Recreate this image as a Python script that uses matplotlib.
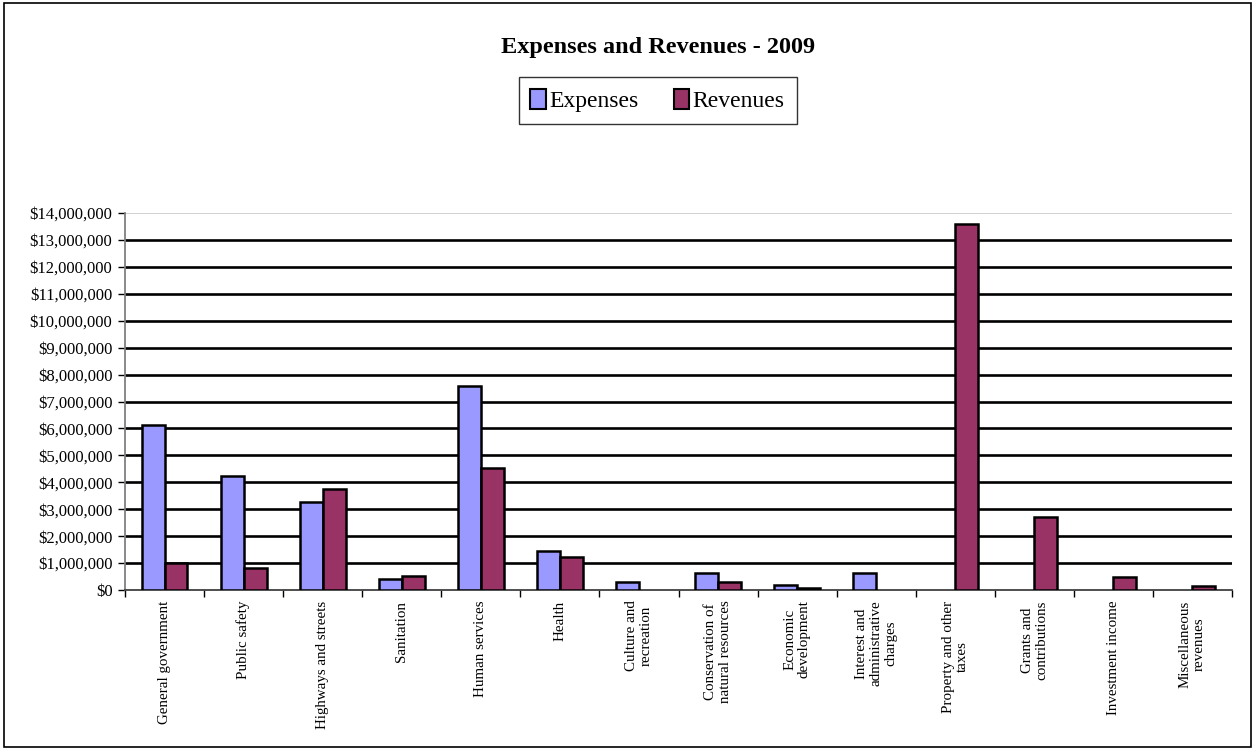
import matplotlib
matplotlib.use("Agg")
import matplotlib.pyplot as plt
import matplotlib.patches as mpatches
import numpy as np
from matplotlib.ticker import FuncFormatter, FixedLocator

plt.rcParams["font.family"] = ["Liberation Serif", "DejaVu Serif"]

# ── Data ──────────────────────────────────────────────────────
categories = [
    "General government", "Public safety", "Highways and streets",
    "Sanitation", "Human services", "Health", "Culture and\nrecreation",
    "Conservation of\nnatural resources", "Economic\ndevelopment",
    "Interest and\nadministrative\ncharges", "Property and other\ntaxes",
    "Grants and\ncontributions", "Investment income",
    "Miscellaneous\nrevenues",
]
expenses = [6130000, 4220000, 3270000, 410000, 7570000, 1450000, 310000,
            640000, 190000, 640000, 0, 0, 0, 0]
revenues = [990000, 830000, 3760000, 530000, 4540000, 1230000, 0,
            280000, 70000, 0, 13600000, 2710000, 470000, 160000]
y_ticks = list(range(0, 14000001, 1000000))

EXP_COLOR = "#9999FF"
REV_COLOR = "#993366"

fig = plt.figure(figsize=(12.55, 7.5), dpi=100)
fig.patches.append(mpatches.Rectangle((0.003, 0.004), 0.994, 0.992,
                                      transform=fig.transFigure, fill=False,
                                      edgecolor="black", linewidth=1.2))

ax = fig.add_axes([0.0996, 0.2133, 0.8821, 0.5027])

x = np.arange(len(categories))
w = 0.29
# empty categories draw no bar at all (not even an outline on the axis)
exp_vals = np.where(np.array(expenses) > 0, expenses, np.nan)
rev_vals = np.where(np.array(revenues) > 0, revenues, np.nan)
ax.bar(x - w / 2, exp_vals, w, color=EXP_COLOR, edgecolor="black",
       linewidth=1.8, zorder=3, label="Expenses")
ax.bar(x + w / 2, rev_vals, w, color=REV_COLOR, edgecolor="black",
       linewidth=1.8, zorder=3, label="Revenues")

ax.set_xlim(-0.5, len(categories) - 0.5)
ax.set_ylim(0, 14000000)

# gridlines
for v in y_ticks[1:-1]:
    ax.axhline(v, color="black", linewidth=1.9, zorder=1)
ax.axhline(y_ticks[-1], color="#c8c8c8", linewidth=1.2, zorder=1)

for s in ["top", "right"]:
    ax.spines[s].set_visible(False)
ax.spines["left"].set_color("#808080")
ax.spines["left"].set_linewidth(1.3)
ax.spines["bottom"].set_color("#404040")
ax.spines["bottom"].set_linewidth(1.3)

ax.yaxis.set_major_locator(FixedLocator(y_ticks))
ax.yaxis.set_major_formatter(FuncFormatter(lambda v, p: f"${v:,.0f}"))
ax.tick_params(axis="y", direction="out", length=5, width=1, labelsize=12,
               pad=4)

ax.set_xticks(np.arange(len(categories) + 1) - 0.5)
ax.set_xticklabels([])
ax.tick_params(axis="x", direction="out", length=5, width=1)
for i, lab in enumerate(categories):
    ax.text(i, -0.028, lab, transform=ax.get_xaxis_transform(),
            rotation=90, ha="center", va="top", multialignment="center",
            fontsize=10.8, linespacing=1.15)

fig.text(0.524, 0.936, "Expenses and Revenues - 2009", ha="center",
         va="center", fontsize=17.5, fontweight="bold")

leg = fig.legend(handles=[
    mpatches.Patch(facecolor=EXP_COLOR, edgecolor="black", linewidth=1.5,
                   label="Expenses"),
    mpatches.Patch(facecolor=REV_COLOR, edgecolor="black", linewidth=1.5,
                   label="Revenues")],
    loc="center", bbox_to_anchor=(0.524, 0.866), ncol=2, fontsize=17,
    frameon=True, fancybox=False, edgecolor="black", handlelength=0.65,
    handleheight=0.9, handletextpad=0.15, columnspacing=1.5,
    borderpad=0.5)
leg.get_frame().set_linewidth(1.0)

fig.savefig("out.png", dpi=100)
